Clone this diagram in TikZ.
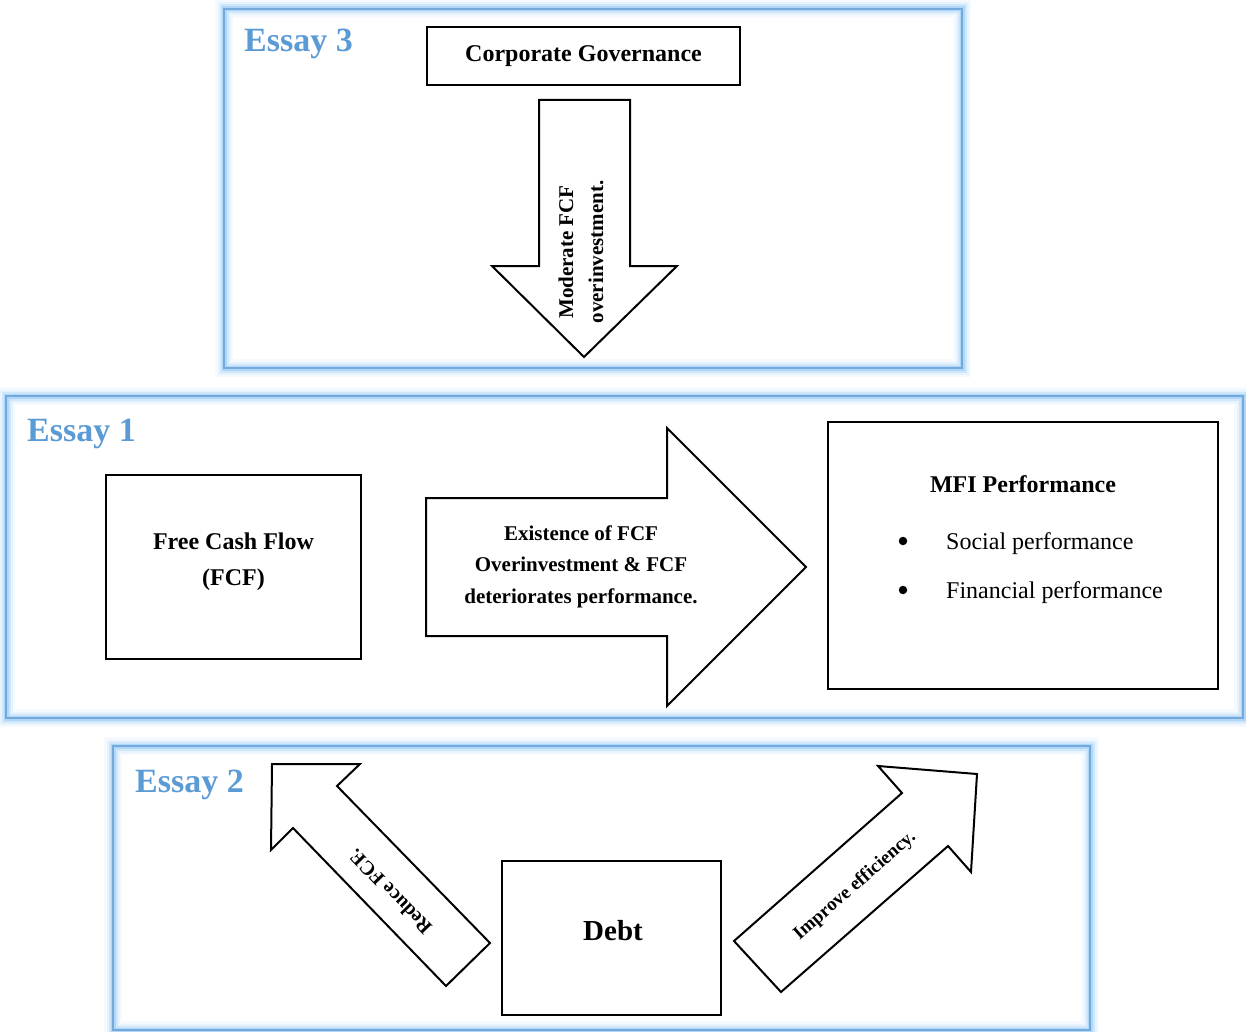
\documentclass[tikz,border=0pt]{standalone}
\usepackage{fontspec}
\setmainfont{Liberation Serif}
\definecolor{essayblue}{RGB}{91,155,213}
\definecolor{glowblue}{RGB}{140,195,245}
% soft glowing frame around each essay panel
\newcommand\glowframe[2]{%
  \foreach \w/\o in {18/0.08,13/0.14,9/0.25,5/0.45}{%
    \draw[glowblue,line width=\w pt,opacity=\o] #1 rectangle #2;}%
  \draw[essayblue!85,line width=1.8pt] #1 rectangle #2;}
\begin{document}
\begin{tikzpicture}[x=1pt,y=-1pt,
  box/.style={draw=black,line width=2pt,fill=white,inner sep=0},
  blockarrow/.style={draw=black,line width=2pt,fill=white,line join=miter},
  essaylabel/.style={text=essayblue,font=\fontsize{34}{40}\selectfont\bfseries,anchor=base west,inner sep=0},
  boldtext/.style={font=\fontsize{24}{36}\selectfont\bfseries,align=center,inner sep=0},
  plaintext/.style={font=\fontsize{24}{36}\selectfont,inner sep=0},
  arrowtext/.style={font=\fontsize{21}{31.5}\selectfont\bfseries,align=center,inner sep=0},
  slanttext/.style={font=\fontsize{19}{22}\selectfont\bfseries,inner sep=0},
  bullet/.style={circle,fill=black,inner sep=0,minimum size=8.5pt}]
\useasboundingbox (0,0) rectangle (1246,1032);

% essay panels
\glowframe{(224,9)}{(962,368)}
\glowframe{(6,396)}{(1243,718)}
\glowframe{(113,746)}{(1090,1030)}
\node[essaylabel] (e3) at (244,52) {Essay 3};
\node[essaylabel] (e1) at (27,441) {Essay 1};
\node[essaylabel] (e2) at (135,792) {Essay 2};

% Essay 3
\node[box,minimum width=313pt,minimum height=58pt] (cg) at (583.5,56) {};
\node[boldtext,anchor=base] (cgtext) at (583.5,62) {Corporate Governance};
\draw[blockarrow] (539,100) -- (630,100) -- (630,266) -- (677,266) -- (584,357)
  -- (492,266) -- (539,266) -- cycle;
\node[arrowtext,rotate=90,font=\fontsize{21}{30}\selectfont\bfseries] (modtext) at (581,252)
  {Moderate FCF\\overinvestment.};

% Essay 1
\node[box,minimum width=255pt,minimum height=184pt] (fcf) at (233.5,567) {};
\node[boldtext,anchor=base] (fcftext) at (233.5,585) {Free Cash Flow\\(FCF)};
\draw[blockarrow] (426,498) -- (667,498) -- (667,428) -- (806,567) -- (667,706)
  -- (667,636) -- (426,636) -- cycle;
\node[arrowtext,anchor=base] (existtext) at (581,603)
  {Existence of FCF\\Overinvestment \& FCF\\deteriorates performance.};
\node[box,minimum width=390pt,minimum height=267pt] (mfi) at (1023,555.5) {};
\node[boldtext,anchor=base] (mfititle) at (1023,492) {MFI Performance};
\node[bullet] (b1) at (903,541) {};
\node[plaintext,anchor=base west] (social) at (946,549) {Social performance};
\node[bullet] (b2) at (903,590) {};
\node[plaintext,anchor=base west] (financial) at (946,598) {Financial performance};

% Essay 2
\node[box,minimum width=219pt,minimum height=154pt] (debt) at (611.5,938) {};
\node[font=\fontsize{29}{34}\selectfont\bfseries,anchor=base,inner sep=0] (debttext) at (613,940) {Debt};
\draw[blockarrow] (272,764) -- (360,764) -- (337,786) -- (490,943) -- (446,986)
  -- (293,828) -- (271,850) -- cycle;
\node[slanttext,rotate=134,font=\fontsize{20}{22}\selectfont\bfseries] (reduce) at (390,892) {Reduce FCF.};
\draw[blockarrow] (734,941) -- (902,793) -- (878,766) -- (977,774) -- (971,872)
  -- (948,846) -- (781,992) -- cycle;
\node[slanttext,rotate=41] (improve) at (855,886) {Improve efficiency.};
\end{tikzpicture}
\end{document}
